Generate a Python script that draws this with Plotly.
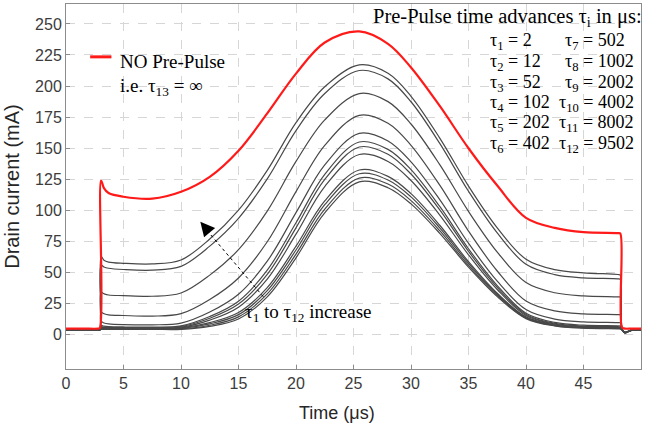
import plotly.graph_objects as go

# time samples (µs)
time_us = [0, 1.5, 2.8, 2.95, 3.05, 3.3, 3.7, 5, 7.5, 10, 12.5, 15, 17.5, 20, 22.5, 25.5,
           28, 30, 32.5, 35, 37.5, 40, 42.5, 45, 48.0, 48.2, 48.35, 48.6, 49.2, 50]

# NO pre-pulse (tau13 = inf), mA
no_prepulse = [5, 5, 5, 5.5, 124, 118, 114, 111, 109.5, 115, 127, 148, 178, 210, 235, 244,
               234, 215, 184, 150, 120, 94, 86, 82.5, 81.8, 81.5, 6, 5, 5, 5]

# pre-pulse curves tau1..tau12, mA
tau_curves = {
    "τ1": [3.5, 3.5, 3.5, 3.7, 4.3, 4.3, 4.3, 4.3, 4.4, 4.4, 6.8, 12.7, 30.5, 61.9, 98.1, 123,
           118.3, 105.3, 81.6, 54.4, 30.7, 13, 7.1, 5.3, 4.8, 4.7, 3.6, 1.5, 3.5, 3.5],
    "τ2": [3.6, 3.6, 3.6, 3.8, 4.6, 4.6, 4.6, 4.6, 4.7, 4.8, 7.7, 14.4, 32.9, 64.9, 101.1, 126,
           121.2, 107.9, 83.7, 55.8, 31.6, 13.5, 7.4, 5.6, 5.1, 5, 3.8, 1.5, 3.6, 3.6],
    "τ3": [3.8, 3.8, 3.8, 4, 5, 4.9, 4.9, 4.9, 5, 5.2, 8.8, 16.2, 35.5, 68.2, 104.6, 129.5,
           124.5, 110.9, 86, 57.4, 32.5, 13.9, 7.7, 5.8, 5.3, 5.2, 4, 1.6, 3.8, 3.8],
    "τ4": [3.8, 3.8, 3.8, 4, 5.5, 5.3, 5.2, 5.1, 5.2, 5.6, 9.8, 17.9, 38, 71.3, 107.7, 132.5,
           127.4, 113.5, 88.1, 58.8, 33.4, 14.4, 8, 6.1, 5.6, 5.5, 4, 1.6, 3.8, 3.8],
    "τ5": [4, 4, 4, 4.1, 6, 5.7, 5.5, 5.4, 5.4, 6.1, 11.8, 22.2, 44.8, 80.9, 119.2, 145,
           139.4, 124.1, 96.3, 64.3, 36.4, 15.5, 8.6, 6.5, 6, 5.8, 4.2, 1.8, 4, 4],
    "τ6": [4, 4, 4, 4.1, 6.5, 6.2, 6, 5.8, 5.8, 6.7, 13.3, 24.7, 48.6, 86, 124.9, 151,
           145.2, 129.3, 100.4, 67.1, 38.1, 16.4, 9.2, 7, 6.5, 6.3, 4.3, 1.8, 4, 4],
    "τ7": [4, 4, 4, 4.2, 7.5, 7, 6.6, 6.3, 6.2, 7.2, 14.7, 27, 52, 90.1, 129, 155,
           149.1, 132.8, 103.2, 69.2, 39.6, 17.4, 10, 7.7, 7.2, 7, 4.5, 2, 4, 4],
    "τ8": [4, 4, 4, 4.2, 10.5, 9.5, 8.8, 8.2, 8, 9.4, 18.3, 32.6, 59.2, 98.2, 136.6, 162,
           155.9, 139.1, 108.7, 73.6, 43.1, 20.3, 12.6, 10.4, 9.8, 9.6, 4.5, 2, 4, 4],
    "τ9": [4, 4, 4, 4.3, 18, 17, 16, 15.5, 15, 17, 28.4, 45.7, 74.8, 115.1, 152.3, 176.5,
           170.1, 152.4, 120.3, 83.4, 51.3, 27.2, 19.2, 16.8, 16.2, 16, 4.5, 2, 4, 4],
    "τ10": [4, 4, 4, 4.5, 34, 33, 32, 31.5, 31, 33.6, 48, 68.5, 99.5, 139.4, 172.8, 194,
            187.5, 169.5, 136.8, 99.2, 66.5, 42, 33.8, 31.3, 30.5, 30.3, 5, 2, 4, 4],
    "τ11": [4, 4, 4, 4.5, 56, 54.5, 53.5, 52.5, 52, 55, 71.3, 93.7, 125.4, 164.2, 194, 212.5,
            205.8, 187.4, 153.9, 115.4, 81.9, 56.7, 48.4, 45.8, 45, 44.5, 5, 2, 4, 4],
    "τ12": [4, 4, 4, 4.5, 63, 60, 58.5, 57.5, 57, 60.2, 77, 100.2, 132.2, 170.6, 199.4, 217,
            210.3, 191.8, 158.2, 119.6, 86, 60.8, 52.4, 49.8, 48.5, 48, 5, 2, 4, 4],
}

tau_labels_left = ["τ<sub>1</sub> = 2", "τ<sub>2</sub> = 12", "τ<sub>3</sub> = 52",
                   "τ<sub>4</sub> = 102", "τ<sub>5</sub> = 202", "τ<sub>6</sub> = 402"]
tau_labels_right = ["τ<sub>7</sub> = 502", "τ<sub>8</sub> = 1002", "τ<sub>9</sub> = 2002",
                    "τ<sub>10</sub> = 4002", "τ<sub>11</sub> = 8002", "τ<sub>12</sub> = 9502"]

x_ticks = [0, 5, 10, 15, 20, 25, 30, 35, 40, 45, 50]
y_ticks = [0, 25, 50, 75, 100, 125, 150, 175, 200, 225, 250]

fig = go.Figure()
for name, vals in tau_curves.items():
    fig.add_trace(go.Scatter(x=time_us, y=vals, mode="lines", name=name,
                             line=dict(color="rgb(72,72,72)", width=1.2, shape="spline", smoothing=1.0),
                             showlegend=False))
fig.add_trace(go.Scatter(x=time_us, y=no_prepulse, mode="lines", name="NO Pre-Pulse",
                         line=dict(color="#ff1a1a", width=2.2, shape="spline", smoothing=1.0),
                         showlegend=False))

serif = "Liberation Serif"
ann = []
ann.append(dict(x=4.55, y=220, xref="x", yref="y", text="NO Pre-Pulse", showarrow=False,
                xanchor="left", yanchor="middle", font=dict(family=serif, size=19, color="black")))
ann.append(dict(x=4.55, y=199, xref="x", yref="y", text="i.e. τ<sub>13</sub> = ∞", showarrow=False,
                xanchor="left", yanchor="middle", font=dict(family=serif, size=19, color="black")))
ann.append(dict(x=(371 - 66) / 575, y=1 - (18 - 4) / 365, xref="paper", yref="paper",
                text="Pre-Pulse time advances τ<sub>i</sub> in μs:", showarrow=False,
                xanchor="left", yanchor="middle", font=dict(family=serif, size=20.5, color="black")))
row_y = [41, 62, 83, 103, 123, 144]
right_x = [563, 563, 563, 557, 557, 557]
for i in range(6):
    ann.append(dict(x=(488 - 66) / 575, y=1 - (row_y[i] - 4) / 365, xref="paper", yref="paper",
                    text=tau_labels_left[i], showarrow=False, xanchor="left", yanchor="middle",
                    font=dict(family=serif, size=18, color="black")))
    ann.append(dict(x=(right_x[i] - 66) / 575, y=1 - (row_y[i] - 4) / 365, xref="paper", yref="paper",
                    text=tau_labels_right[i], showarrow=False, xanchor="left", yanchor="middle",
                    font=dict(family=serif, size=18, color="black")))
ann.append(dict(x=15.4, y=17.5, xref="x", yref="y", text="τ<sub>1</sub> to τ<sub>12</sub> increase",
                showarrow=False, xanchor="left", yanchor="middle",
                font=dict(family=serif, size=19, color="black")))
# arrow head
ann.append(dict(x=11.68, y=91, xref="x", yref="y", text="", showarrow=True, arrowhead=2,
                arrowsize=2.4, arrowwidth=1.2, arrowcolor="black", ax=8, ay=9.5, standoff=0))
# x axis title
ann.append(dict(x=(337 - 66) / 575, y=1 - (413 - 4) / 365, xref="paper", yref="paper",
                text="Time (μs)", showarrow=False, xanchor="center", yanchor="middle",
                font=dict(family="Liberation Sans", size=18, color="#262626")))

fig.update_layout(
    width=649, height=430,
    margin=dict(l=66, r=8, t=4, b=61),
    paper_bgcolor="white", plot_bgcolor="white",
    annotations=ann,
    shapes=[
        dict(type="line", xref="x", yref="y", x0=17.16, y0=30.6, x1=12.3, y1=83.5,
             line=dict(color="black", width=1, dash="dot")),
        dict(type="line", xref="x", yref="y", x0=2.1, y0=223.5, x1=3.95, y1=223.5,
             line=dict(color="#ff1a1a", width=3)),
    ],
)
axis_common = dict(showgrid=True, gridcolor="#d6d6d6", griddash="dash", gridwidth=1,
                   showline=True, linecolor="#8c8c8c", linewidth=1, mirror=True,
                   ticks="inside", ticklen=4, tickcolor="#8c8c8c", zeroline=False,
                   tickfont=dict(family="Liberation Sans", size=16, color="#3c3c3c"))
fig.update_xaxes(range=[0, 50], tickvals=x_ticks, **axis_common)
fig.update_yaxes(range=[-27.5, 266], tickvals=y_ticks, **axis_common,
                 title=dict(text="Drain current (mA)", font=dict(family="Liberation Sans", size=20, color="#262626"),
                            standoff=10))

fig.write_html("out.html")
